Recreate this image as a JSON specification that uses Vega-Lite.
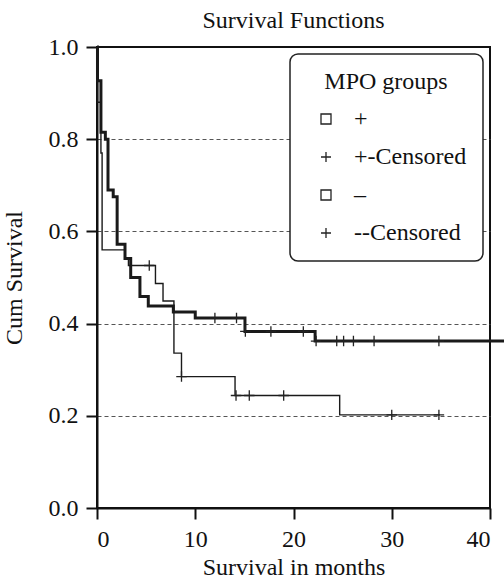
{
  "$schema": "https://vega.github.io/schema/vega-lite/v6.json",
  "width": 393,
  "height": 461,
  "autosize": {"type": "none"},
  "padding": {"left": 97, "top": 47, "right": 14, "bottom": 72},
  "background": "white",
  "title": {
    "text": "Survival Functions",
    "font": "Liberation Serif",
    "fontSize": 24,
    "fontWeight": "normal",
    "color": "#111",
    "anchor": "middle",
    "frame": "group",
    "offset": 2
  },
  "datasets": {
    "curves": [
      {"group": "+", "months": 0, "survival": 1.0},
      {"group": "+", "months": 0.05, "survival": 0.927},
      {"group": "+", "months": 0.4, "survival": 0.815},
      {"group": "+", "months": 0.85, "survival": 0.8},
      {"group": "+", "months": 1.12, "survival": 0.69},
      {"group": "+", "months": 1.65, "survival": 0.675},
      {"group": "+", "months": 2.05, "survival": 0.572},
      {"group": "+", "months": 2.85, "survival": 0.541},
      {"group": "+", "months": 3.43, "survival": 0.5},
      {"group": "+", "months": 4.37, "survival": 0.459},
      {"group": "+", "months": 5.22, "survival": 0.438},
      {"group": "+", "months": 7.77, "survival": 0.425},
      {"group": "+", "months": 10.0, "survival": 0.412},
      {"group": "+", "months": 15.06, "survival": 0.383},
      {"group": "+", "months": 22.2, "survival": 0.362},
      {"group": "+", "months": 42, "survival": 0.362},
      {"group": "–", "months": 0, "survival": 1.0},
      {"group": "–", "months": 0.05, "survival": 0.88},
      {"group": "–", "months": 0.4, "survival": 0.77},
      {"group": "–", "months": 0.52, "survival": 0.56},
      {"group": "–", "months": 2.85, "survival": 0.543},
      {"group": "–", "months": 3.2, "survival": 0.526},
      {"group": "–", "months": 5.95, "survival": 0.487},
      {"group": "–", "months": 6.72, "survival": 0.449},
      {"group": "–", "months": 7.83, "survival": 0.336},
      {"group": "–", "months": 8.6, "survival": 0.285},
      {"group": "–", "months": 14.05, "survival": 0.244},
      {"group": "–", "months": 24.7, "survival": 0.202},
      {"group": "–", "months": 34.9, "survival": 0.202}
    ],
    "censored": [
      {"label": "+-Censored", "months": 12.0, "survival": 0.412},
      {"label": "+-Censored", "months": 14.2, "survival": 0.412},
      {"label": "+-Censored", "months": 15.1, "survival": 0.383},
      {"label": "+-Censored", "months": 17.7, "survival": 0.383},
      {"label": "+-Censored", "months": 21.0, "survival": 0.383},
      {"label": "+-Censored", "months": 22.3, "survival": 0.362},
      {"label": "+-Censored", "months": 24.4, "survival": 0.362},
      {"label": "+-Censored", "months": 25.1, "survival": 0.362},
      {"label": "+-Censored", "months": 26.1, "survival": 0.362},
      {"label": "+-Censored", "months": 28.2, "survival": 0.362},
      {"label": "+-Censored", "months": 34.8, "survival": 0.362},
      {"label": "--Censored", "months": 5.32, "survival": 0.526},
      {"label": "--Censored", "months": 8.6, "survival": 0.285},
      {"label": "--Censored", "months": 14.15, "survival": 0.244},
      {"label": "--Censored", "months": 15.5, "survival": 0.244},
      {"label": "--Censored", "months": 19.0, "survival": 0.244},
      {"label": "--Censored", "months": 30.0, "survival": 0.202},
      {"label": "--Censored", "months": 34.8, "survival": 0.202}
    ]
  },
  "layer": [
    {
      "data": {"name": "curves"},
      "mark": {"type": "line", "interpolate": "step-after", "color": "#1a1a1a", "clip": false},
      "encoding": {
        "x": {
          "field": "months", "type": "quantitative",
          "scale": {"domain": [0, 40], "nice": false, "zero": false},
          "axis": {
            "title": "Survival in months",
            "values": [0, 10, 20, 30, 40],
            "grid": false
          }
        },
        "y": {
          "field": "survival", "type": "quantitative",
          "scale": {"domain": [0, 1], "nice": false},
          "axis": {
            "title": "Cum Survival",
            "values": [0, 0.2, 0.4, 0.6, 0.8, 1.0],
            "format": ".1f",
            "grid": true,
            "gridDash": [4, 3],
            "gridColor": "#555",
            "gridWidth": 1,
            "gridOpacity": {"condition": {"test": "datum.value < 0.01 || datum.value > 0.99", "value": 0}, "value": 1},
            "titlePadding": 22
          }
        },
        "strokeWidth": {
          "field": "group", "type": "nominal",
          "scale": {"domain": ["+", "–"], "range": [3, 1.4]},
          "legend": null
        }
      }
    },
    {
      "data": {"name": "censored"},
      "mark": {"type": "point", "filled": false, "size": 110, "strokeWidth": 1.3, "color": "#222", "opacity": 1},
      "encoding": {
        "x": {"field": "months", "type": "quantitative"},
        "y": {"field": "survival", "type": "quantitative"},
        "shape": {
          "field": "label", "type": "nominal",
          "scale": {
            "domain": ["+", "+-Censored", "–", "--Censored"],
            "range": ["square", "M-1,0L1,0M0,-1L0,1", "square", "M-1,0L1,0M0,-1L0,1"]
          },
          "legend": {"title": "MPO groups"}
        }
      }
    }
  ],
  "config": {
    "font": "Liberation Serif",
    "view": {"stroke": "#111", "strokeWidth": 2},
    "axis": {
      "labelFont": "Liberation Serif",
      "labelFontSize": 24,
      "labelColor": "#111",
      "titleFont": "Liberation Serif",
      "titleFontSize": 24,
      "titleFontWeight": "normal",
      "titleColor": "#111",
      "domainColor": "#111",
      "domainWidth": 2,
      "tickColor": "#111",
      "tickWidth": 2,
      "tickSize": 11,
      "labelPadding": 8,
      "labelOverlap": false,
      "labelBound": false,
      "titlePadding": 4
    },
    "legend": {
      "orient": "top-right",
      "offset": 7,
      "padding": 16,
      "fillColor": "white",
      "strokeColor": "#222",
      "strokeWidth": 1.5,
      "cornerRadius": 8,
      "titleFont": "Liberation Serif",
      "titleFontSize": 24,
      "titleFontWeight": "normal",
      "titleColor": "#111",
      "titleAnchor": "middle",
      "titlePadding": 13,
      "labelFont": "Liberation Serif",
      "labelFontSize": 24,
      "labelColor": "#111",
      "labelOffset": 16,
      "symbolOffset": 8,
      "rowPadding": 14,
      "symbolSize": 100,
      "symbolStrokeWidth": 1.3,
      "symbolStrokeColor": "#222"
    }
  }
}
